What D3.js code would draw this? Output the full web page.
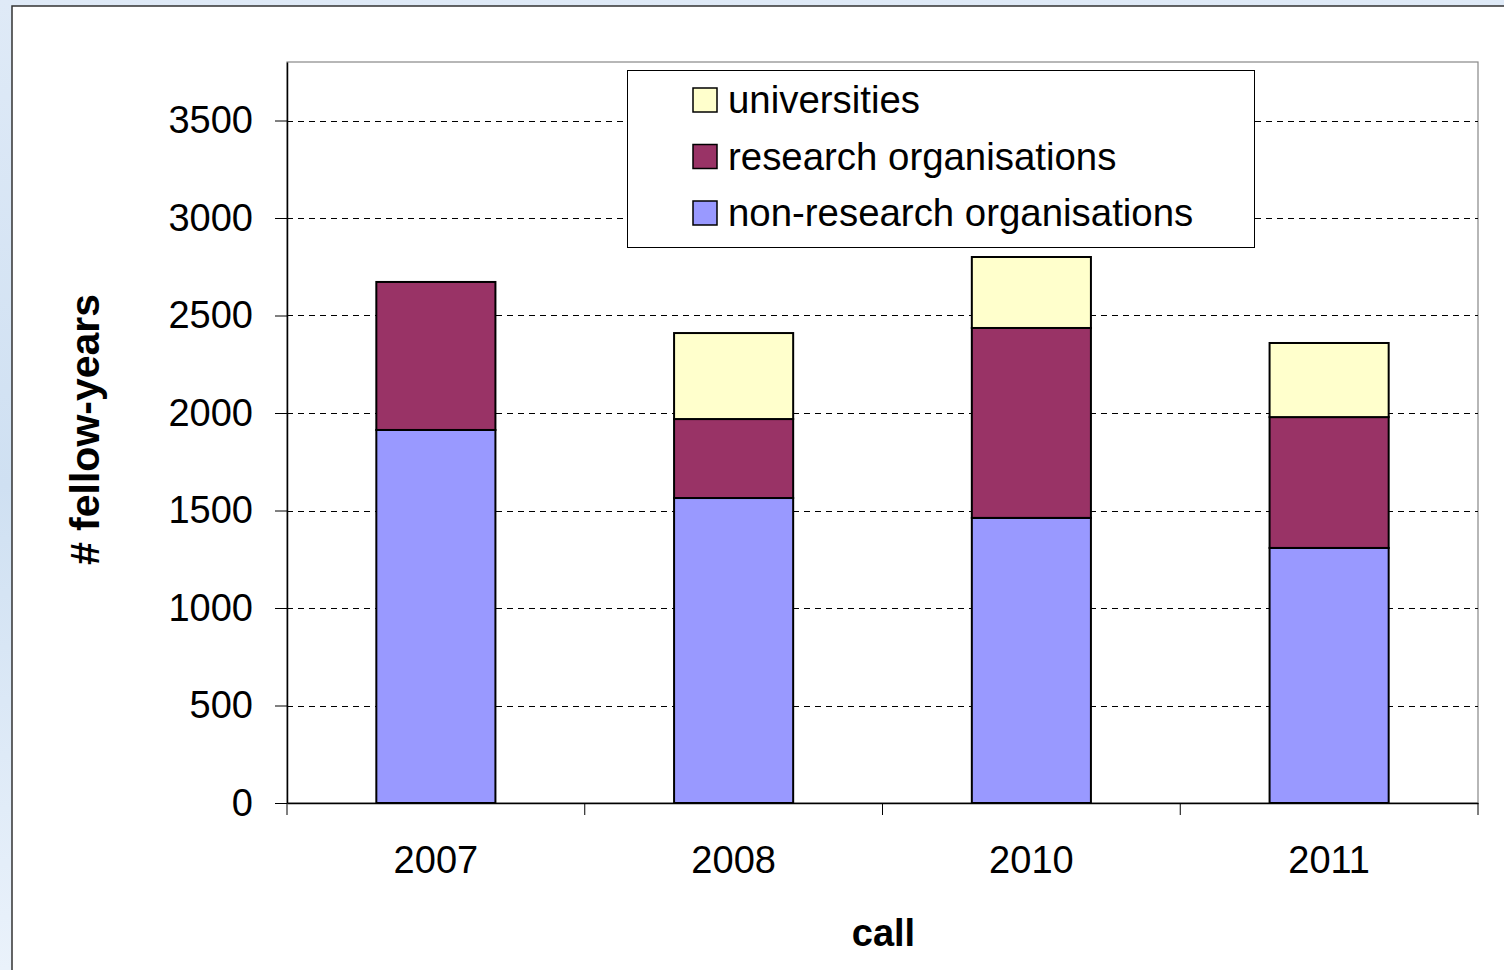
<!DOCTYPE html>
<html>
<head>
<meta charset="utf-8">
<script src="https://cdn.jsdelivr.net/npm/d3@7"></script>
<style>
  html, body { margin: 0; padding: 0; background: #e4eef9; }
  svg { display: block; }
</style>
</head>
<body>
<svg id="chart" width="1504" height="970"></svg>
<script>
const categories = ["2007", "2008", "2010", "2011"];
const nonResearch = [1913, 1564, 1462, 1308];
const research = [759, 405, 974, 671];
const universities = [0, 441, 364, 380];
const yTicks = [0, 500, 1000, 1500, 2000, 2500, 3000, 3500];
const seriesNames = ["non-research organisations", "research organisations", "universities"];
const seriesColors = ["#9999FF", "#993366", "#FFFFCC"];

(function () {
const svg = d3.select("#chart");
const W = 1504, H = 970;
const FONT = "Liberation Sans, Arial, sans-serif";

const defs = svg.append("defs");
const grad = defs.append("linearGradient").attr("id", "bg").attr("x1", 0).attr("y1", 0).attr("x2", 0).attr("y2", 1);
grad.append("stop").attr("offset", "0%").attr("stop-color", "#dfeaf7");
grad.append("stop").attr("offset", "50%").attr("stop-color", "#cfe0f2");
grad.append("stop").attr("offset", "100%").attr("stop-color", "#eaf2fb");
svg.append("rect").attr("width", W).attr("height", H).attr("fill", "url(#bg)");
svg.append("rect").attr("x", 12).attr("y", 6).attr("width", W).attr("height", H)
  .attr("fill", "#fff").attr("stroke", "#333").attr("stroke-width", 1.5);

const pl = 287, pr = 1478, pt = 62, pb = 803;

const x = d3.scaleBand().domain(categories).range([pl, pr]).paddingInner(0.6).paddingOuter(0.3);
const y = d3.scaleLinear().domain([0, 3800]).range([pb, pt]);

svg.append("rect").attr("x", pl).attr("y", pt).attr("width", pr - pl).attr("height", pb - pt)
  .attr("fill", "none").attr("stroke", "#888").attr("stroke-width", 1.2);

svg.append("g").selectAll("line").data(yTicks.filter(d => d > 0)).join("line")
  .attr("x1", pl).attr("x2", pr)
  .attr("y1", d => Math.round(y(d)) + 0.5).attr("y2", d => Math.round(y(d)) + 0.5)
  .attr("stroke", "#000").attr("stroke-width", 1).attr("stroke-dasharray", "6,5");

const rows = categories.map((c, i) => ({ cat: c, v: [nonResearch[i], research[i], universities[i]] }));
const stacked = d3.stack().keys([0, 1, 2]).value((d, k) => d.v[k])(rows);
stacked.forEach((layer, k) => {
  svg.append("g").selectAll("rect").data(layer.filter(d => d[1] - d[0] > 0)).join("rect")
    .attr("x", d => x(d.data.cat))
    .attr("y", d => y(d[1]))
    .attr("width", x.bandwidth())
    .attr("height", d => y(d[0]) - y(d[1]))
    .attr("fill", seriesColors[k])
    .attr("stroke", "#000").attr("stroke-width", 2);
});

const gy = svg.append("g").attr("transform", `translate(${pl},0)`)
  .call(d3.axisLeft(y).tickValues(yTicks).tickFormat(d3.format("d")).tickSize(12).tickPadding(22).tickSizeOuter(0));
gy.select(".domain").attr("stroke", "#000").attr("stroke-width", 1.5);
gy.selectAll(".tick line").attr("stroke", "#000");
gy.selectAll("text").attr("font-family", FONT).attr("font-size", 38).attr("fill", "#000");

const gx = svg.append("g").attr("transform", `translate(0,${pb})`)
  .call(d3.axisBottom(x).tickSize(0).tickPadding(43).tickSizeOuter(0));
gx.select(".domain").attr("stroke", "#000").attr("stroke-width", 1.5);
gx.selectAll("text").attr("font-family", FONT).attr("font-size", 38).attr("fill", "#000");

const half = (x.step() - x.bandwidth()) / 2;
const bounds = categories.map(c => x(c) - half).concat([pr]);
svg.append("g").selectAll("line").data(bounds).join("line")
  .attr("x1", d => d).attr("x2", d => d).attr("y1", pb).attr("y2", pb + 12)
  .attr("stroke", "#000").attr("stroke-width", 1);

svg.append("text").attr("x", (pl + pr) / 2 + 1).attr("y", 946).attr("text-anchor", "middle")
  .attr("font-family", FONT).attr("font-size", 38).attr("font-weight", "bold").text("call");
svg.append("text").attr("transform", `translate(99,${(pt + pb) / 2 - 3}) rotate(-90)`).attr("text-anchor", "middle")
  .attr("font-family", FONT).attr("font-size", 41).attr("font-weight", "bold").text("# fellow-years");

const lg = svg.append("g");
lg.append("rect").attr("x", 627.5).attr("y", 70.5).attr("width", 627).attr("height", 177)
  .attr("fill", "#fff").attr("stroke", "#000").attr("stroke-width", 1);
const legendItems = [2, 1, 0];
const ly = d3.scalePoint().domain(legendItems).range([100, 213]);
legendItems.forEach(k => {
  lg.append("rect").attr("x", 693).attr("y", ly(k) - 12).attr("width", 24).attr("height", 24)
    .attr("fill", seriesColors[k]).attr("stroke", "#000").attr("stroke-width", 1.5);
  lg.append("text").attr("x", 728).attr("y", ly(k) + 13)
    .attr("font-family", FONT).attr("font-size", 38.4).text(seriesNames[k]);
});
})();
</script>
</body>
</html>
